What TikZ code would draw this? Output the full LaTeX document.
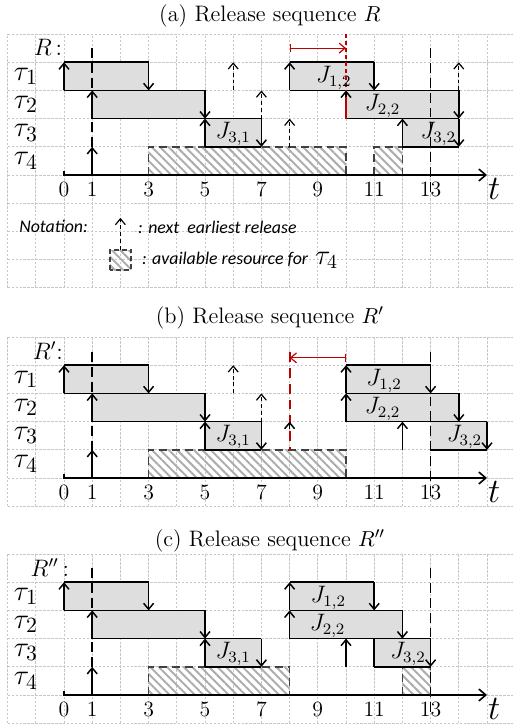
\documentclass[tikz,border=0pt]{standalone}
\usepackage{fontspec}
\newfontfamily\notefont{Carlito}
\usepackage{tikz}
\usetikzlibrary{arrows.meta,patterns.meta}

\begin{document}
\begin{tikzpicture}[x=5mm, y=5mm,
    gridline/.style={black!22, dash pattern=on 1.2pt off 0.8pt, line width=0.4pt},
    job/.style={fill=black!13},
    boxline/.style={line width=0.75pt},
    rel/.style={line width=0.75pt, -{Straight Barb[length=3pt,width=5pt]}},
    nextrel/.style={rel, line width=0.6pt, dash pattern=on 2pt off 1.5pt},
    busy/.style={pattern={Lines[angle=-45,distance=3pt,line width=1pt]}, pattern color=black!32},
    busyedge/.style={black!75, line width=0.75pt, dash pattern=on 4pt off 2.5pt},
    vline/.style={line width=0.75pt, dash pattern=on 5pt off 2.5pt},
    shiftline/.style={red!75!black, line width=0.6pt},
    shiftarr/.style={red!75!black, line width=0.6pt, {Bar[width=4pt]}-{Straight Barb[length=3pt,width=5pt]}},
    taxis/.style={line width=0.8pt, -{Straight Barb[length=3.5pt,width=6pt]}},
    ticklbl/.style={font=\fontsize{11}{13}\selectfont},
    tlbl/.style={font=\fontsize{17}{19}\selectfont},
    rowlbl/.style={font=\fontsize{15}{17}\selectfont},
    seqlbl/.style={font=\fontsize{12}{14}\selectfont},
    joblbl/.style={font=\fontsize{12}{14}\selectfont},
    seqtitle/.style={font=\fontsize{11.3}{13.6}\selectfont},
    note/.style={font=\notefont\fontsize{9}{11}\selectfont\itshape}]
  \useasboundingbox (-2.27,0) rectangle (15.92,-25.78);

  % (a) release sequence R
  \begin{scope}[shift={(0,-6.206)}]
    \foreach \y in {-4,...,5} \draw[gridline] (-2,\y) -- (15.92,\y);
    \foreach \x in {-2,...,15} \draw[gridline] (\x,-4) -- (\x,5);
    \node[seqtitle] (tia) at (7.3,5.64) {(a) Release sequence $R$};
    \node[seqlbl] (sa) at (-0.57,4.52) {$R\,$:};
    \foreach \i/\y in {1/3.5,2/2.5,3/1.5,4/0.5}
      \node[rowlbl] (taua\i) at (-1.35,\y) {$\tau_{\i}$};
    % resource left for tau_4
    \foreach \a/\b in {3/10,11/12} {
      \fill[busy] (\a,0) rectangle (\b,1);
      \draw[busyedge] (\a,0) -- (\a,1) -- (\b,1) -- (\b,0);
    }
    % jobs
    \foreach \a/\b/\r in {0/3/3,1/5/2,5/7/1,8/11/3,10/14/2,12/14/1} {
      \fill[job] (\a,\r) rectangle (\b,\r+1);
      \draw[boxline] (\a,\r) -- (\b,\r) (\a,\r+1) -- (\b,\r+1);
      \draw[rel] (\b,\r+1) -- (\b,\r);
    }
    \foreach \t/\r in {0/3,1/2,1/0,5/1,8/3,12/1} \draw[rel] (\t,\r) -- (\t,\r+1);
    \foreach \t/\r in {6/3,7/2,8/1,14/3} \draw[nextrel] (\t,\r) -- (\t,\r+1);
    \draw[vline] (1,4.5) -- (1,0);
    \draw[vline] (13,4.5) -- (13,-0.75);
    % shift of tau_1
    \draw[shiftline, dash pattern=on 2pt off 1.5pt] (10,5) -- (10,3);
    \draw[shiftline, line width=0.75pt] (10,2) -- (10,2.9);
    \draw[rel] (10,2.75) -- (10,3);
    \draw[shiftarr] (8,4.5) -- (10,4.5);
    \node[joblbl] (j31a) at (6,1.45) {$J_{3,1}$};
    \node[joblbl] (j12a) at (9.57,3.45) {$J_{1,2}$};
    \node[joblbl] (j22a) at (11.3,2.45) {$J_{2,2}$};
    \node[joblbl] (j32a) at (13.27,1.45) {$J_{3,2}$};
    \draw[taxis] (0,0.15) -- (0,0) -- (15,0);
    \foreach \t in {0,1,3,5,7,9,11,13} \node[ticklbl] (ka\t) at (\t,-0.52) {\t};
    \node[tlbl] (ta) at (15.25,-0.5) {$t$};
    % legend
    \node[note] (nota) at (-0.37,-1.83) {Notation:};
    \draw[nextrel] (2,-2.66) -- (2,-1.52);
    \fill[busy] (1.63,-3.37) rectangle (2.38,-2.66);
    \draw[busyedge, dash pattern=on 2.5pt off 1.5pt] (1.63,-3.37) rectangle (2.38,-2.66);
    \node[note, anchor=west] (lg1) at (2.38,-1.85) {: next~ earliest release};
    \node[note, anchor=west] (lg2) at (2.52,-3.02)
      {: available resource for \,{\fontsize{14}{16}\selectfont$\tau_4$}};
  \end{scope}

  % (b) release sequence R'
  \begin{scope}[shift={(0,-16.95)}]
    \foreach \y in {-1,...,5} \draw[gridline] (-2,\y) -- (15.92,\y);
    \foreach \x in {-2,...,15} \draw[gridline] (\x,-1) -- (\x,5);
    \node[seqtitle] (tib) at (7.3,5.67) {(b) Release sequence $R'$};
    \node[seqlbl] (sb) at (-0.57,4.52) {$R'$:};
    \foreach \i/\y in {1/3.5,2/2.5,3/1.5,4/0.5}
      \node[rowlbl] (taub\i) at (-1.35,\y) {$\tau_{\i}$};
    \fill[busy] (3,0) rectangle (10,1);
    \draw[busyedge] (3,0) -- (3,1) -- (10,1) -- (10,0);
    \foreach \a/\b/\r in {0/3/3,1/5/2,5/7/1,10/13/3,10/14/2,13/15/1} {
      \fill[job] (\a,\r) rectangle (\b,\r+1);
      \draw[boxline] (\a,\r) -- (\b,\r) (\a,\r+1) -- (\b,\r+1);
      \draw[rel] (\b,\r+1) -- (\b,\r);
    }
    \foreach \t/\r in {0/3,1/2,1/0,5/1,10/3,10/2,12/1} \draw[rel] (\t,\r) -- (\t,\r+1);
    \foreach \t/\r in {6/3,7/2} \draw[nextrel] (\t,\r) -- (\t,\r+1);
    \draw[vline] (1,4.47) -- (1,0);
    \draw[vline] (13,4.47) -- (13,-0.75);
    % shift back to 8
    \draw[shiftline, line width=0.95pt, dash pattern=on 5pt off 3pt] (8,4.47) -- (8,1);
    \draw[rel] (8,1.75) -- (8,2);
    \draw[shiftarr] (10,4.26) -- (8,4.26);
    \node[joblbl] (j31b) at (6,1.45) {$J_{3,1}$};
    \node[joblbl] (j12b) at (11.35,3.45) {$J_{1,2}$};
    \node[joblbl] (j22b) at (11.3,2.45) {$J_{2,2}$};
    \node[joblbl] (j32b) at (14.2,1.45) {$J_{3,2}$};
    \draw[taxis] (0,0.15) -- (0,0) -- (15,0);
    \foreach \t in {0,1,3,5,7,9,11,13} \node[ticklbl] (kb\t) at (\t,-0.52) {\t};
    \node[tlbl] (tb) at (15.25,-0.5) {$t$};
  \end{scope}

  % (c) release sequence R''
  \begin{scope}[shift={(0,-24.645)}]
    \foreach \y in {-1,...,5} \draw[gridline] (-2,\y) -- (15.92,\y);
    \foreach \x in {-2,...,15} \draw[gridline] (\x,-1) -- (\x,5);
    \node[seqtitle] (tic) at (7.3,5.46) {(c) Release sequence $R''$};
    \node[seqlbl] (sc) at (-0.5,4.52) {$R''$\,:};
    \foreach \i/\y in {1/3.5,2/2.5,3/1.5,4/0.5}
      \node[rowlbl] (tauc\i) at (-1.35,\y) {$\tau_{\i}$};
    \foreach \a/\b in {3/8,12/13} {
      \fill[busy] (\a,0) rectangle (\b,1);
      \draw[busyedge] (\a,0) -- (\a,1) -- (\b,1) -- (\b,0);
    }
    \foreach \a/\b/\r in {0/3/3,1/5/2,5/7/1,8/11/3,8/12/2,11/13/1} {
      \fill[job] (\a,\r) rectangle (\b,\r+1);
      \draw[boxline] (\a,\r) -- (\b,\r) (\a,\r+1) -- (\b,\r+1);
      \draw[rel] (\b,\r+1) -- (\b,\r);
    }
    \draw[boxline] (11,1) -- (11,2);
    \foreach \t/\r in {0/3,1/2,1/0,5/1,8/3,8/2,10/1} \draw[rel] (\t,\r) -- (\t,\r+1);
    \draw[vline] (1,4.5) -- (1,0);
    \draw[vline] (13,4.5) -- (13,-0.6);
    \node[joblbl] (j31c) at (6,1.45) {$J_{3,1}$};
    \node[joblbl] (j12c) at (9.37,3.45) {$J_{1,2}$};
    \node[joblbl] (j22c) at (9.35,2.45) {$J_{2,2}$};
    \node[joblbl] (j32c) at (12.2,1.45) {$J_{3,2}$};
    \draw[taxis] (0,0.15) -- (0,0) -- (15,0);
    \foreach \t in {0,1,3,5,7,9,11,13} \node[ticklbl] (kc\t) at (\t,-0.52) {\t};
    \node[tlbl] (tc) at (15.25,-0.5) {$t$};
  \end{scope}
\end{tikzpicture}
\end{document}
